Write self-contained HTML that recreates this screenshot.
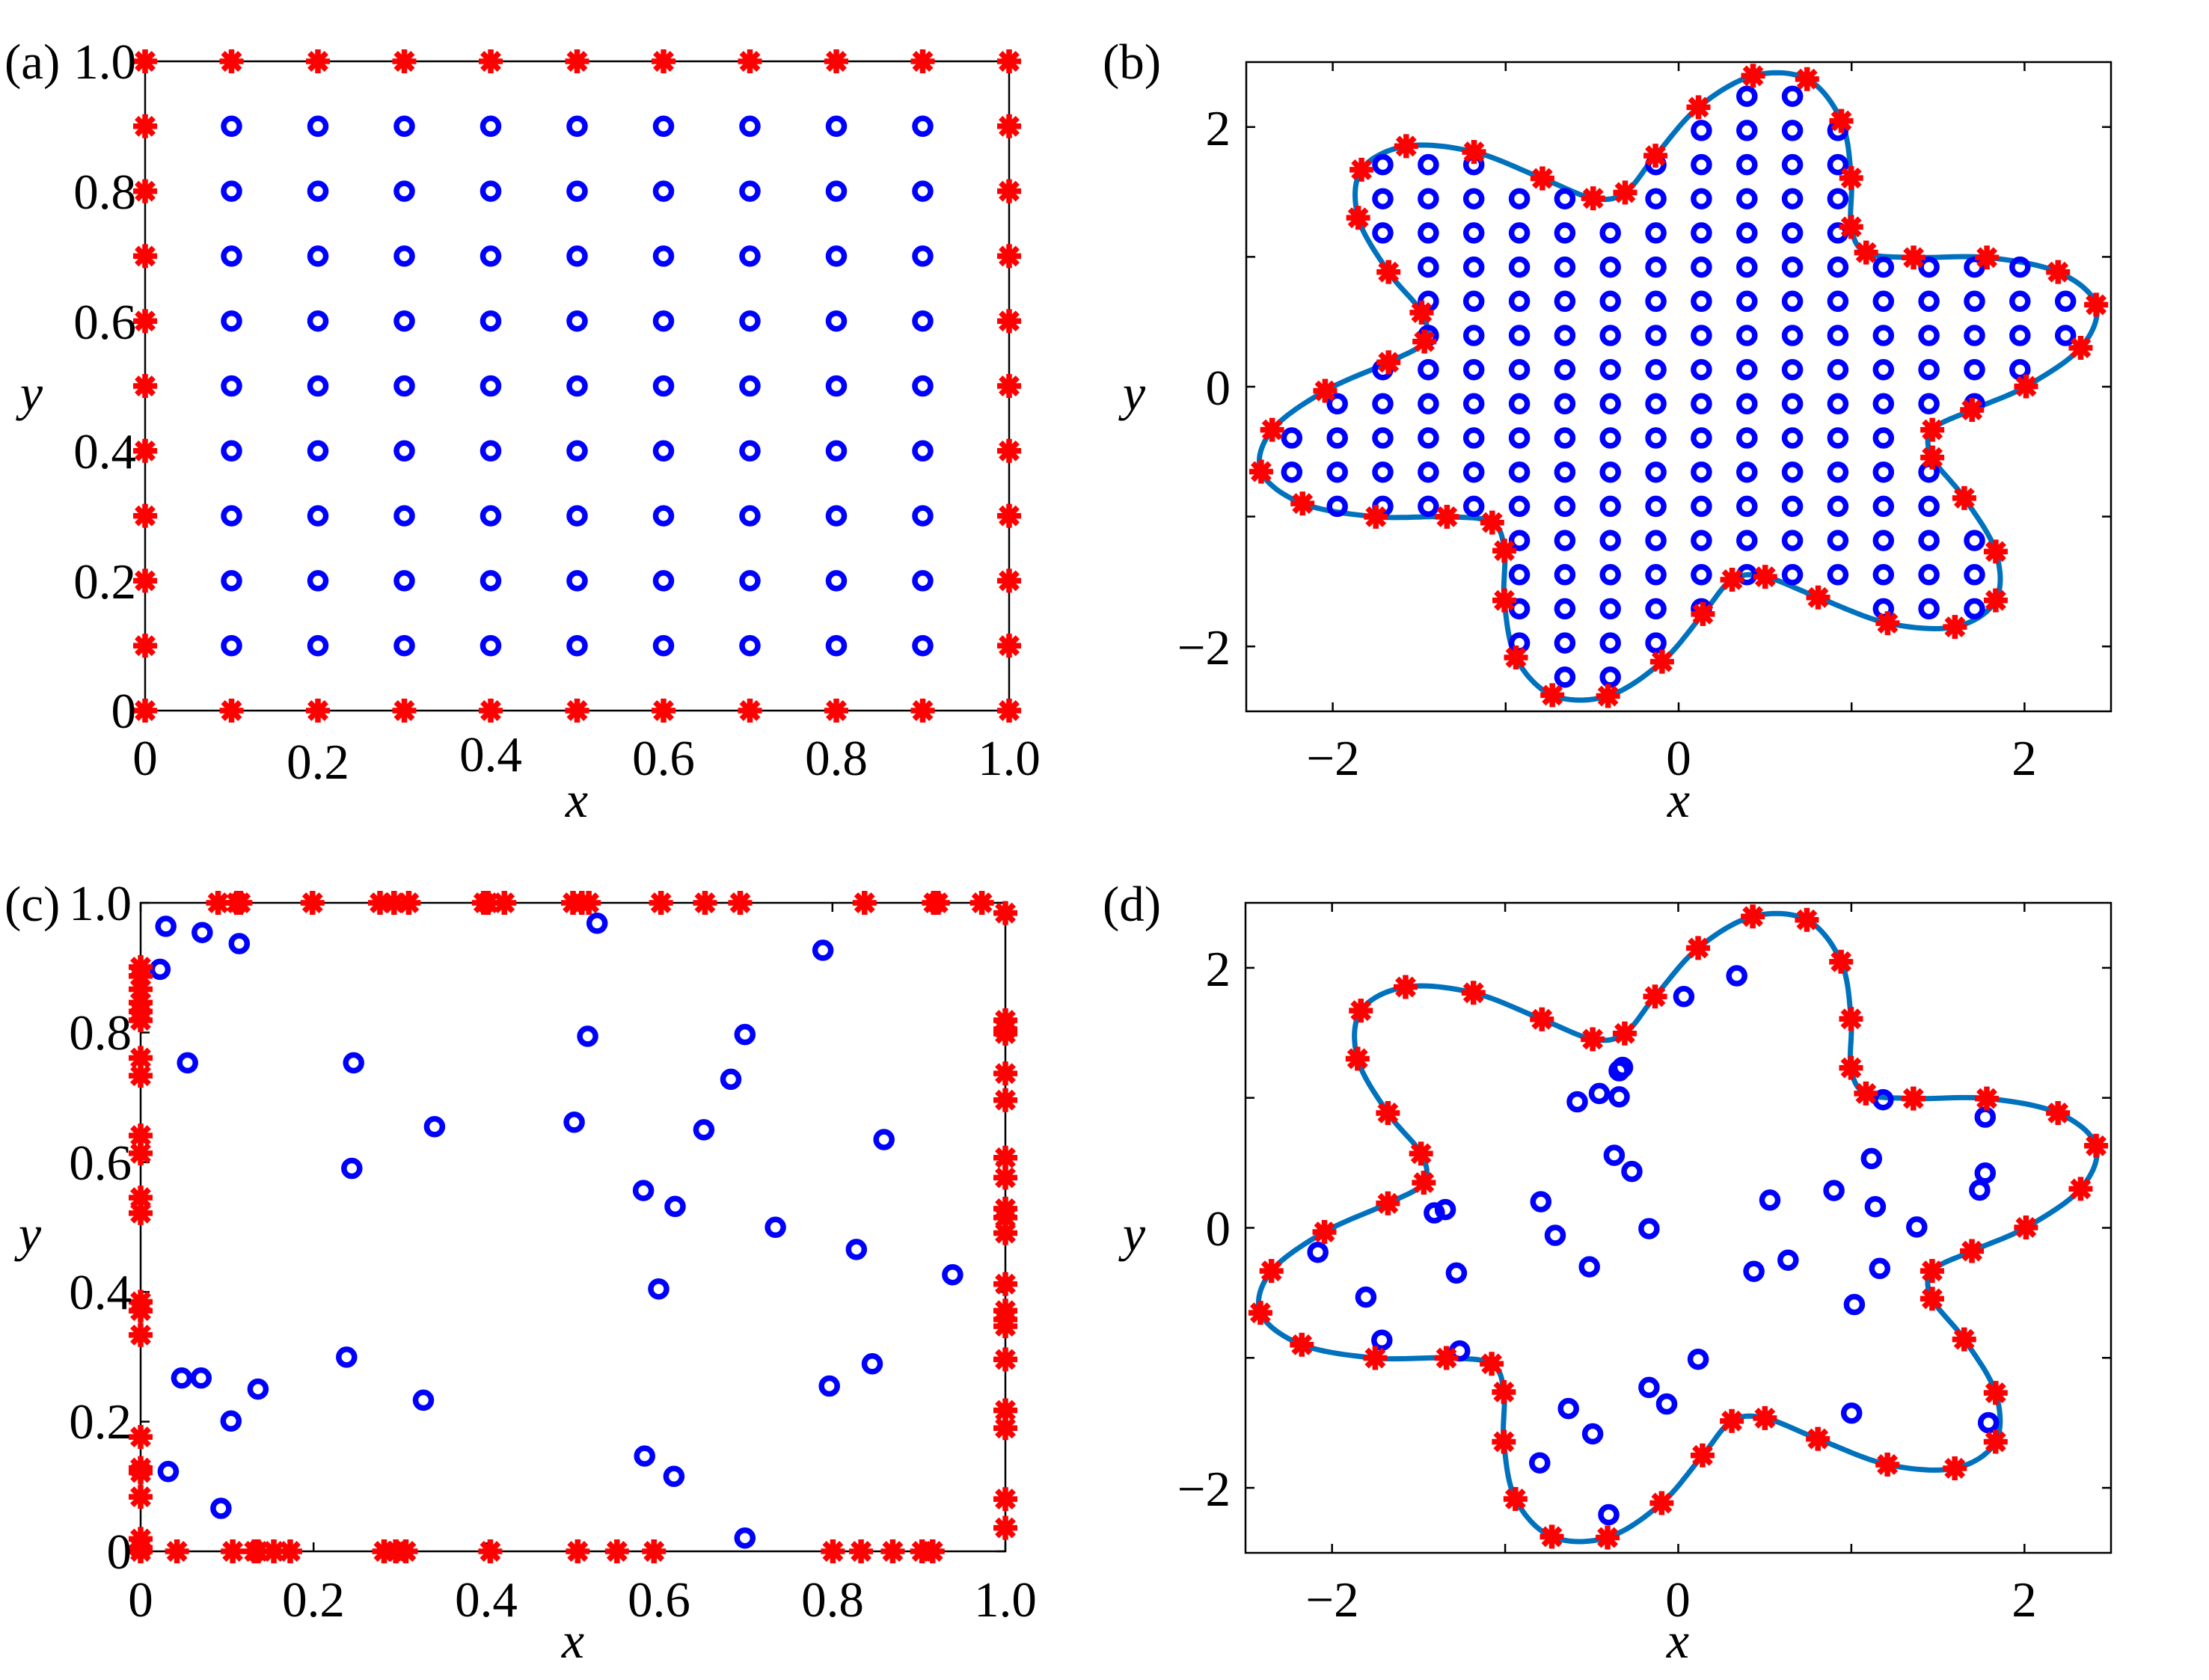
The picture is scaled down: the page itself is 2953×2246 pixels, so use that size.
<!DOCTYPE html>
<html><head><meta charset="utf-8">
<style>
html,body{margin:0;padding:0;background:#fff;}
svg{display:block;}
text{font-family:"Liberation Serif","Times New Roman",serif;fill:#000;}
.t{font-size:67px;}
.it{font-size:68px;font-style:italic;}
</style></head>
<body>
<svg id="s" width="2953" height="2246" viewBox="0 0 2953 2246" xmlns="http://www.w3.org/2000/svg">
<rect width="2953" height="2246" fill="#fff"/>
<g id="g"></g>
<text class="t" x="6" y="105">(a)</text>
<text class="t" x="1474" y="105">(b)</text>
<text class="t" x="6" y="1231">(c)</text>
<text class="t" x="1474" y="1231">(d)</text>
<g class="t" text-anchor="end">
<text x="182" y="105">1.0</text><text x="182" y="279">0.8</text><text x="182" y="453">0.6</text>
<text x="182" y="626">0.4</text><text x="182" y="800">0.2</text><text x="182" y="973">0</text>
</g>
<g class="t" text-anchor="middle">
<text x="194" y="1036">0</text><text x="425" y="1041">0.2</text><text x="656" y="1031">0.4</text>
<text x="887" y="1036">0.6</text><text x="1118" y="1036">0.8</text><text x="1349" y="1036">1.0</text>
</g>
<text class="it" x="771" y="1092" text-anchor="middle">x</text>
<text class="it" x="42" y="548" text-anchor="middle">y</text>
<g class="t" text-anchor="end">
<text x="1645" y="194">2</text><text x="1645" y="541">0</text><text x="1645" y="888">−2</text>
</g>
<g class="t" text-anchor="middle">
<text x="1782" y="1036">−2</text><text x="2244" y="1036">0</text><text x="2706" y="1036">2</text>
</g>
<text class="it" x="2244" y="1092" text-anchor="middle">x</text>
<text class="it" x="1516" y="548" text-anchor="middle">y</text>
<g class="t" text-anchor="end">
<text x="176" y="1230">1.0</text><text x="176" y="1403">0.8</text><text x="176" y="1577">0.6</text>
<text x="176" y="1750">0.4</text><text x="176" y="1923">0.2</text><text x="176" y="2097">0</text>
</g>
<g class="t" text-anchor="middle">
<text x="188" y="2161">0</text><text x="419" y="2161">0.2</text><text x="650" y="2161">0.4</text>
<text x="881" y="2161">0.6</text><text x="1113" y="2161">0.8</text><text x="1344" y="2161">1.0</text>
</g>
<text class="it" x="766" y="2216" text-anchor="middle">x</text>
<text class="it" x="40" y="1672" text-anchor="middle">y</text>
<g class="t" text-anchor="end">
<text x="1645" y="1318">2</text><text x="1645" y="1665">0</text><text x="1645" y="2013">−2</text>
</g>
<g class="t" text-anchor="middle">
<text x="1781" y="2161">−2</text><text x="2243" y="2161">0</text><text x="2706" y="2161">2</text>
</g>
<text class="it" x="2243" y="2216" text-anchor="middle">x</text>
<text class="it" x="1516" y="1672" text-anchor="middle">y</text>
</svg>
<script>
(function(){
var G=document.getElementById("g");
var out=[];
function line(x1,y1,x2,y2,c,w){out.push('<line x1="'+x1.toFixed(1)+'" y1="'+y1.toFixed(1)+'" x2="'+x2.toFixed(1)+'" y2="'+y2.toFixed(1)+'" stroke="'+c+'" stroke-width="'+w+'"/>');}
function star(x,y){var r=16,d=11.3;
 out.push('<path d="M'+(x-r)+' '+y+'H'+(x+r)+'M'+x+' '+(y-r)+'V'+(y+r)+'M'+(x-d)+' '+(y-d)+'L'+(x+d)+' '+(y+d)+'M'+(x-d)+' '+(y+d)+'L'+(x+d)+' '+(y-d)+'" stroke="#ff0000" stroke-width="7.5" fill="none"/>');}
function circ(x,y){out.push('<circle cx="'+x.toFixed(1)+'" cy="'+y.toFixed(1)+'" r="10.5" stroke="#0000ff" stroke-width="7.5" fill="none"/>');}
function box(b,ticksX,ticksY){
 var x=b[0],y=b[1],w=b[2],h=b[3],L=12;
 ticksX.forEach(function(f){var px=x+f*w;line(px,y+h,px,y+h-L,'#000',2.5);line(px,y,px,y+L,'#000',2.5);});
 ticksY.forEach(function(f){var py=y+f*h;line(x,py,x+L,py,'#000',2.5);line(x+w,py,x+w-L,py,'#000',2.5);});
 out.push('<rect x="'+x+'" y="'+y+'" width="'+w+'" height="'+h+'" fill="none" stroke="#000" stroke-width="2.5"/>');
}
var A=[194,82,1155,868],B=[1666,83,1156,868],C=[188,1207,1156,867],D=[1665,1207,1157,869];
var t5=[0,0.2,0.4,0.6,0.8,1],ti=[0.1,0.3,0.5,0.7,0.9];
box(A,t5,t5);box(B,ti,ti);box(C,t5,t5);box(D,ti,ti);
for(var i=0;i<=10;i++)for(var j=0;j<=10;j++){
 var px=A[0]+i/10*A[2],py=A[1]+j/10*A[3];
 if(i==0||i==10||j==0||j==10)star(px,py);else circ(px,py);
}
var S=[[919,33],[1017,41],[1079,142],[1097,280],[1097,398],[1124,460],[1210,472],[1343,472],[1472,507],[1541,586],[1513,690],[1414,783],[1316,840],[1244,888],[1244,955],[1302,1053],[1359,1182],[1359,1300],[1285,1364],[1163,1355],[1037,1293],[941,1243],[881,1250],[828,1333],[754,1448],[656,1531],[555,1529],[489,1438],[468,1300],[468,1180],[446,1112],[364,1098],[235,1098],[102,1066],[27,989],[47,888],[143,794],[258,725],[323,675],[318,605],[258,507],[203,376],[209,260],[290,203],[413,217],[537,281],[629,329],[687,315],[742,226],[820,109]].map(function(p){return [p[0]/1568,p[1]/1568];});
var n=S.length,dense=[];
for(var k=0;k<n;k++){
 var p0=S[(k-1+n)%n],p1=S[k],p2=S[(k+1)%n],p3=S[(k+2)%n];
 for(var s=0;s<12;s++){var t=s/12,t2=t*t,t3=t2*t;
  var f=function(a,b,c,d){return 0.5*((2*b)+(-a+c)*t+(2*a-5*b+4*c-d)*t2+(-a+3*b-3*c+d)*t3);};
  dense.push([f(p0[0],p1[0],p2[0],p3[0]),f(p0[1],p1[1],p2[1],p3[1])]);}
}
function inside(x,y){var c=false;for(var i=0,j=dense.length-1;i<dense.length;j=i++){
 var xi=dense[i][0],yi=dense[i][1],xj=dense[j][0],yj=dense[j][1];
 if(((yi>y)!=(yj>y))&&(x<(xj-xi)*(y-yi)/(yj-yi)+xi))c=!c;}return c;}
function curve(b){var d='';dense.forEach(function(p,i){d+=(i?'L':'M')+(b[0]+p[0]*b[2]).toFixed(1)+' '+(b[1]+p[1]*b[3]).toFixed(1);});
 out.push('<path d="'+d+'Z" fill="none" stroke="#0072bd" stroke-width="7"/>');}
curve(B);
for(var i=1;i<19;i++)for(var j=1;j<19;j++){var fx=i/19,fy=j/19;if(inside(fx,fy))circ(B[0]+fx*B[2],B[1]+fy*B[3]);}
S.forEach(function(p){star(B[0]+p[0]*B[2],B[1]+p[1]*B[3]);});
function cp(px,py){return [C[0]+(px-48)/1474*C[2],C[1]+(py-45)/1463*C[3]];}
[[91,98],[153,112],[216,137],[81,195],[826,91],[1211,152],[810,346],[1078,342],[128,406],[411,406],[1054,443],[549,550],[787,540],[1008,557],[1315,579],[408,644],[905,694],[959,730],[1130,777],[1268,827],[1432,884],[931,916],[399,1070],[118,1117],[151,1117],[248,1142],[530,1167],[1295,1085],[1222,1135],[202,1214],[907,1293],[957,1339],[95,1328],[185,1411],[1078,1478]].forEach(function(p){var q=cp(p[0],p[1]);circ(q[0],q[1]);});
[180,212,218,341,456,480,505,633,640,668,785,800,812,935,1010,1070,1282,1400,1407,1482].forEach(function(x){var q=cp(x,45);star(q[0],q[1]);});
[48,110,205,242,248,275,303,463,483,500,644,793,860,923,1228,1276,1330,1380,1398].forEach(function(x){var q=cp(x,1508);star(q[0],q[1]);});
[190,210,240,270,290,310,395,435,570,610,710,745,945,965,1020,1250,1320,1330,1385,1480,1500].forEach(function(y){var q=cp(48,y);star(q[0],q[1]);});
[68,310,330,340,430,490,620,665,735,755,790,905,965,985,1000,1075,1190,1230,1390,1455].forEach(function(y){var q=cp(1522,y);star(q[0],q[1]);});
curve(D);
[[890,176],[794,226],[683,397],[677,405],[641,460],[601,480],[677,468],[1155,475],[1340,517],[668,609],[700,648],[1134,617],[1340,652],[1330,693],[1066,694],[950,717],[535,721],[362,740],[342,748],[1141,733],[731,786],[1216,782],[561,802],[131,843],[983,862],[1149,882],[623,878],[921,889],[382,893],[218,951],[1103,969],[247,1055],[388,1081],[820,1101],[731,1169],[763,1209],[1098,1231],[585,1220],[1346,1254],[629,1281],[533,1351],[658,1476]].forEach(function(p){circ(D[0]+p[0]/1568*D[2],D[1]+p[1]/1568*D[3]);});
S.forEach(function(p){star(D[0]+p[0]*D[2],D[1]+p[1]*D[3]);});
G.innerHTML=out.join('');
})();
</script>
</body></html>
